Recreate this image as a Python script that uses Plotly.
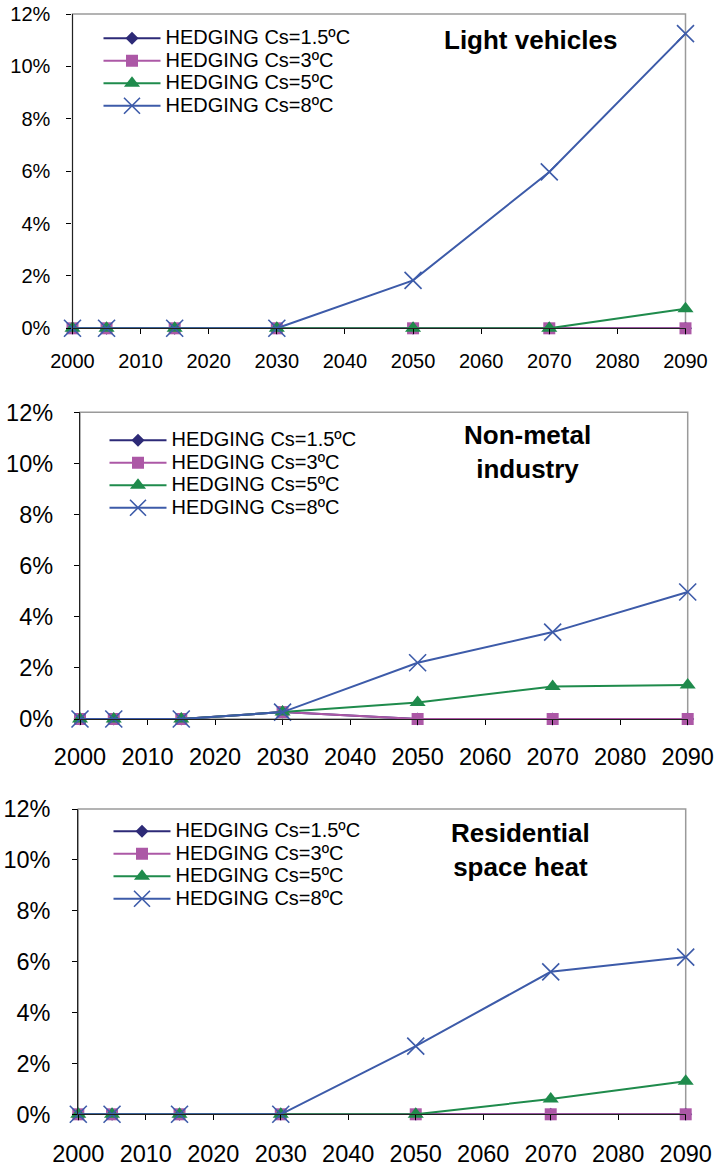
import plotly.graph_objects as go

# ---- data -------------------------------------------------------------
years = [2000, 2005, 2015, 2030, 2050, 2070, 2090]

series_names = ["HEDGING Cs=1.5ºC", "HEDGING Cs=3ºC", "HEDGING Cs=5ºC", "HEDGING Cs=8ºC"]

# Light vehicles (%)
lv_cs15 = [0, 0, 0, 0, 0, 0, 0]
lv_cs3 = [0, 0, 0, 0, 0, 0, 0]
lv_cs5 = [0, 0, 0, 0, 0, 0, 0.75]
lv_cs8 = [0, 0, 0, 0, 1.83, 5.97, 11.25]

# Non-metal industry (%)
nm_cs15 = [0, 0, 0, 0.27, 0, 0, 0]
nm_cs3 = [0, 0, 0, 0.27, 0, 0, 0]
nm_cs5 = [0, 0, 0, 0.27, 0.65, 1.27, 1.33]
nm_cs8 = [0, 0, 0, 0.27, 2.2, 3.4, 4.97]

# Residential space heat (%)
rs_cs15 = [0, 0, 0, 0, 0, 0, 0]
rs_cs3 = [0, 0, 0, 0, 0, 0, 0]
rs_cs5 = [0, 0, 0, 0, 0, 0.6, 1.3]
rs_cs8 = [0, 0, 0, 0, 2.68, 5.6, 6.18]

panel_titles = ["Light vehicles", "Non-metal<br>industry", "Residential<br>space heat"]
y_ticks = [0, 2, 4, 6, 8, 10, 12]
x_ticks = list(range(2000, 2091, 10))

# ---- styling ----------------------------------------------------------
W, H = 718, 1167
FONT = "Liberation Sans, Arial, sans-serif"
colors = ["#2D2A77", "#AC58A6", "#1F8B4C", "#3D5BA9"]
symbols = ["diamond", "square", "triangle-up", "x-thin-open"]
msizes = [10, 12, 14, 17]


def px_x(p):
    return p / W


def px_y(p):
    return 1 - p / H


# plot area boxes in pixels: (left, top, right, bottom)
boxes = [
    (72.5, 14, 685.5, 328.3),
    (80, 412.3, 687.7, 719),
    (78.3, 809, 685.7, 1114.3),
]
tick_font_sizes = [20, 23.5, 23.5]
x_standoff = [10, 12, 13]
y_standoff = [12, 16, 17]
legend_pos = [(98.5, 22), (104.5, 424), (108.5, 815)]
title_pos = [(530, 40), (527, 452), (520, 850)]

panels = [
    [lv_cs15, lv_cs3, lv_cs5, lv_cs8],
    [nm_cs15, nm_cs3, nm_cs5, nm_cs8],
    [rs_cs15, rs_cs3, rs_cs5, rs_cs8],
]

fig = go.Figure()
layout = dict(
    width=W, height=H,
    margin=dict(l=0, r=0, t=0, b=0, autoexpand=False),
    paper_bgcolor="white", plot_bgcolor="white",
    font=dict(family=FONT, color="black"),
    shapes=[], annotations=[],
)

for i, (vals, box) in enumerate(zip(panels, boxes)):
    n = "" if i == 0 else str(i + 1)
    xa, ya = "x" + n, "y" + n
    leg = "legend" + n
    for k in range(4):
        mk = dict(symbol=symbols[k], size=msizes[k], color=colors[k])
        if symbols[k].startswith("x-thin"):
            mk["line"] = dict(width=1.6, color=colors[k])
        else:
            mk["line"] = dict(width=0)
        fig.add_trace(go.Scatter(
            x=years, y=vals[k], xaxis=xa, yaxis=ya,
            mode="lines+markers",
            name=f"<span style='font-size:20px'>{series_names[k]}</span>",
            line=dict(color=colors[k], width=2),
            marker=mk, cliponaxis=False, legend=leg,
        ))

    l, t, r, b = box
    fs = tick_font_sizes[i]
    layout["xaxis" + n] = dict(
        domain=[px_x(l), px_x(r)], anchor=ya, range=[2000, 2090],
        tickmode="array", tickvals=x_ticks, ticktext=[str(v) for v in x_ticks],
        ticks="outside", ticklen=5, tickwidth=1, tickcolor="black",
        showline=True, linecolor="#222", linewidth=1.3,
        showgrid=False, zeroline=False, ticklabelstandoff=x_standoff[i],
        tickfont=dict(size=fs, family=FONT, color="black"),
    )
    layout["yaxis" + n] = dict(
        domain=[px_y(b), px_y(t)], anchor=xa, range=[0, 12],
        tickmode="array", tickvals=y_ticks, ticktext=[f"{v}%" for v in y_ticks],
        ticks="outside", ticklen=5, tickwidth=1, tickcolor="black",
        showline=True, linecolor="#222", linewidth=1.3,
        showgrid=False, zeroline=False, ticklabelstandoff=y_standoff[i],
        tickfont=dict(size=fs, family=FONT, color="black"),
    )
    # grey plot-area frame
    layout["shapes"].append(dict(
        type="rect", xref=xa + " domain", yref=ya + " domain",
        x0=0, x1=1, y0=0, y1=1, layer="below",
        line=dict(color="#9A9A9A", width=1.5),
    ))
    lx, ly = legend_pos[i]
    layout[leg] = dict(
        x=px_x(lx), y=px_y(ly), xanchor="left", yanchor="top",
        bgcolor="rgba(0,0,0,0)", borderwidth=0,
        font=dict(size=15, family=FONT, color="black"),
        itemwidth=57, tracegroupgap=0,
    )
    tx, ty = title_pos[i]
    layout["annotations"].append(dict(
        text=f"<b>{panel_titles[i]}</b>", x=px_x(tx), y=px_y(ty),
        xref="paper", yref="paper", xanchor="center", yanchor="middle",
        showarrow=False, font=dict(size=26, family=FONT, color="black"),
    ))

fig.update_layout(**layout)
fig.write_html("out.html")
